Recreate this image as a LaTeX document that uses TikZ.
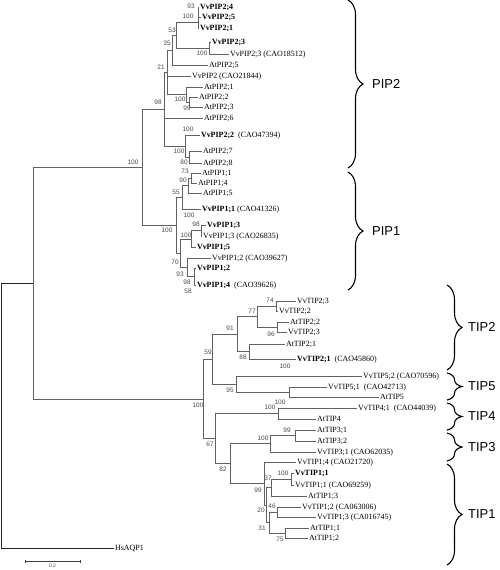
\documentclass[tikz,border=0pt]{standalone}
\usepackage{fontspec}
\setmainfont{Liberation Serif}
\newfontfamily\lsans{Liberation Sans}
\usetikzlibrary{decorations.pathreplacing}
\tikzset{
 br/.style={draw=black!62, line width=0.6bp},
 leaf/.style={anchor=west, inner xsep=0.8bp, inner ysep=0pt, text height=5.4bp, text depth=0pt, font=\fontsize{8}{9}\selectfont},
 bs/.style={inner sep=0pt, font=\lsans\fontsize{6.5}{7}\selectfont, text=black!72},
 clade/.style={anchor=west, inner sep=0pt, font=\lsans\fontsize{13}{15}\selectfont},
 brc/.style={decorate, decoration={brace, amplitude=15bp}, line width=1.1bp},
}
\begin{document}
\begin{tikzpicture}[x=1bp,y=-1bp]
\useasboundingbox (0,0) rectangle (500,570);
% ---------- PIP leaves
\node[leaf] (L1) at (199,7) {\textbf{VvPIP2;4}};
\node[leaf] (L2) at (201,17) {\textbf{VvPIP2;5}};
\node[leaf] (L3) at (199,28) {\textbf{VvPIP2;1}};
\node[leaf] (L4) at (211,42) {\textbf{VvPIP2;3}};
\node[leaf] (L5) at (229,54) {VvPIP2;3 (CAO18512)};
\node[leaf] (L6) at (208,65) {AtPIP2;5};
\node[leaf] (L7) at (191,76) {VvPIP2 (CAO21844)};
\node[leaf] (L8) at (203,87) {AtPIP2;1};
\node[leaf] (L9) at (198,97) {AtPIP2;2};
\node[leaf] (L10) at (203,107) {AtPIP2;3};
\node[leaf] (L11) at (203,118) {AtPIP2;6};
\node[leaf] (L12) at (200,135) {\textbf{VvPIP2;2}\ \ (CAO47394)};
\node[leaf] (L13) at (202,151) {AtPIP2;7};
\node[leaf] (L14) at (202,163) {AtPIP2;8};
\node[leaf] (L15) at (201,173) {AtPIP1;1};
\node[leaf] (L16) at (197,183) {AtPIP1;4};
\node[leaf] (L17) at (202,193) {AtPIP1;5};
\node[leaf] (L18) at (201,209) {\textbf{VvPIP1;1} (CAO41326)};
\node[leaf] (L19) at (206,225) {\textbf{VvPIP1;3}};
\node[leaf] (L20) at (202,236) {VvPIP1;3 (CAO26835)};
\node[leaf] (L21) at (196,247) {\textbf{VvPIP1;5}};
\node[leaf] (L22) at (211,258) {VvPIP1;2 (CAO39627)};
\node[leaf] (L23) at (196,268) {\textbf{VvPIP1;2}};
\node[leaf] (L24) at (196,285) {\textbf{VvPIP1;4}\ \ (CAO39626)};
% ---------- TIP leaves
\node[leaf] (T1) at (296,301) {VvTIP2;3};
\node[leaf] (T2) at (278,311) {VvTIP2;2};
\node[leaf] (T3) at (289,322) {AtTIP2;2};
\node[leaf] (T4) at (287,332) {VvTIP2;3};
\node[leaf] (T5) at (285,344) {AtTIP2;1};
\node[leaf] (T6) at (296,359) {\textbf{VvTIP2;1}\ \ (CAO45860)};
\node[leaf] (T7) at (362,376) {VvTIP5;2 (CAO70596)};
\node[leaf] (T8) at (327,387) {VvTIP5;1\ \ (CAO42713)};
\node[leaf] (T9) at (379,397) {AtTIP5};
\node[leaf] (T10) at (357,408) {VvTIP4;1\ \ (CAO44039)};
\node[leaf] (T11) at (316,419) {AtTIP4};
\node[leaf] (T12) at (316,430) {AtTIP3;1};
\node[leaf] (T13) at (316,441) {AtTIP3;2};
\node[leaf] (T14) at (316,452) {VvTIP3;1 (CAO62035)};
\node[leaf] (T15) at (296,462) {VvTIP1;4 (CAO21720)};
\node[leaf] (T16) at (294,473) {\textbf{VvTIP1;1}};
\node[leaf] (T17) at (294,485) {VvTIP1;1 (CAO69259)};
\node[leaf] (T18) at (307,496) {AtTIP1;3};
\node[leaf] (T19) at (301,507) {VvTIP1;2 (CA063006)};
\node[leaf] (T20) at (316,517) {VvTIP1;3 (CA016745)};
\node[leaf] (T21) at (309,528) {AtTIP1;1};
\node[leaf] (T22) at (308,538) {AtTIP1;2};
\node[leaf] (HS) at (114,548) {HsAQP1};
% ---------- PIP internal nodes
\coordinate (nA) at (198,22);
\coordinate (n100b) at (209,48);
\coordinate (n53) at (176,35);
\coordinate (n35) at (172,50);
\coordinate (n99) at (189,102);
\coordinate (n100c) at (186,94.5);
\coordinate (n21) at (167,72);
\coordinate (nY) at (189,157);
\coordinate (nX) at (185,146);
\coordinate (pip2) at (164,109);
\coordinate (n73) at (191,178);
\coordinate (n90) at (188,185.5);
\coordinate (n55) at (182,197);
\coordinate (n98) at (201,230.5);
\coordinate (n100d) at (191,239);
\coordinate (n98b) at (194,276.5);
\coordinate (n93) at (187,267);
\coordinate (n70) at (180,253);
\coordinate (pip1) at (176,225);
\coordinate (pip) at (142,167.5);
% ---------- TIP internal nodes
\coordinate (n74) at (276,306);
\coordinate (n96) at (277,327);
\coordinate (n77) at (257,316.5);
\coordinate (n88) at (249,351.5);
\coordinate (n91) at (237,334);
\coordinate (t5) at (289,392);
\coordinate (n95) at (236,384);
\coordinate (n59) at (212,359);
\coordinate (t4) at (278,413.5);
\coordinate (n99t3) at (295,435.5);
\coordinate (t3) at (270,443.75);
\coordinate (n100t1) at (291,479);
\coordinate (n37) at (271,487.5);
\coordinate (n46) at (277,512);
\coordinate (n75) at (285,533);
\coordinate (n31) at (269,522.5);
\coordinate (n20) at (266,505);
\coordinate (t1) at (264,483.5);
\coordinate (n82) at (230,463.6);
\coordinate (n67) at (215,438.6);
\coordinate (tip) at (203,398.8);
\coordinate (ing) at (33,283);
\coordinate (root) at (1,415.5);
% ---------- PIP branches
\draw[br] (nA) |- (L1.west) (nA) |- (L2.west) (nA) |- (L3.west);
\draw[br] (n100b) |- (L4.west) (n100b) |- (L5.west);
\draw[br] (n53) |- (nA) (n53) |- (n100b);
\draw[br] (n35) |- (n53) (n35) |- (L6.west);
\draw[br] (n99) |- (L9.west) (n99) |- (L10.west);
\draw[br] (n100c) |- (L8.west) (n100c) |- (n99);
\draw[br] (n21) |- (n35) (n21) |- (L7.west) (n21) |- (n100c);
\draw[br] (nY) |- (L13.west) (nY) |- (L14.west);
\draw[br] (nX) |- (L12.west) (nX) |- (nY);
\draw[br] (pip2) |- (n21) (pip2) |- (L11.west) (pip2) |- (nX);
\draw[br] (n73) |- (L15.west) (n73) |- (L16.west);
\draw[br] (n90) |- (n73) (n90) |- (L17.west);
\draw[br] (n55) |- (n90) (n55) |- (L18.west);
\draw[br] (n98) |- (L19.west) (n98) |- (L20.west);
\draw[br] (n100d) |- (n98) (n100d) |- (L21.west);
\draw[br] (n98b) |- (L23.west) (n98b) |- (L24.west);
\draw[br] (n93) |- (L22.west) (n93) |- (n98b);
\draw[br] (n70) |- (n100d) (n70) |- (n93);
\draw[br] (pip1) |- (n55) (pip1) |- (n70);
\draw[br] (pip) |- (pip2) (pip) |- (pip1);
% ---------- TIP branches
\draw[br] (n74) |- (T1.west) (n74) |- (T2.west);
\draw[br] (n96) |- (T3.west) (n96) |- (T4.west);
\draw[br] (n77) |- (n74) (n77) |- (n96);
\draw[br] (n88) |- (T5.west) (n88) |- (T6.west);
\draw[br] (n91) |- (n77) (n91) |- (n88);
\draw[br] (t5) |- (T8.west) (t5) |- (T9.west);
\draw[br] (n95) |- (T7.west) (n95) |- (t5);
\draw[br] (n59) |- (n91) (n59) |- (n95);
\draw[br] (t4) |- (T10.west) (t4) |- (T11.west);
\draw[br] (n99t3) |- (T12.west) (n99t3) |- (T13.west);
\draw[br] (t3) |- (n99t3) (t3) |- (T14.west);
\draw[br] (n100t1) |- (T16.west) (n100t1) |- (T17.west);
\draw[br] (n37) |- (n100t1) (n37) |- (T18.west);
\draw[br] (n46) |- (T19.west) (n46) |- (T20.west);
\draw[br] (n75) |- (T21.west) (n75) |- (T22.west);
\draw[br] (n31) |- (n46) (n31) |- (n75);
\draw[br] (n20) |- (n37) (n20) |- (n31);
\draw[br] (t1) |- (T15.west) (t1) |- (n20);
\draw[br] (n82) |- (t3) (n82) |- (t1);
\draw[br] (n67) |- (t4) (n67) |- (n82);
\draw[br] (tip) |- (n59) (tip) |- (n67);
\draw[br] (ing) |- (pip) (ing) |- (tip);
\draw[br, draw=black!85] (root) |- (ing) (root) |- (HS.west);
% ---------- bootstrap values
\node[bs] (b1) at (191,6) {93};
\node[bs] (b2) at (188,16) {100};
\node[bs] (b3) at (172,30) {53};
\node[bs] (b4) at (167,43) {35};
\node[bs] (b5) at (202,53) {100};
\node[bs] (b6) at (161,67) {21};
\node[bs] (b7) at (158,102) {98};
\node[bs] (b8) at (180,99) {100};
\node[bs] (b9) at (187,108) {99};
\node[bs] (b10) at (188,129) {100};
\node[bs] (b11) at (179,151) {100};
\node[bs] (b12) at (184,162) {80};
\node[bs] (b13) at (133,162) {100};
\node[bs] (b14) at (185,171) {73};
\node[bs] (b15) at (183,180) {90};
\node[bs] (b16) at (176,192) {55};
\node[bs] (b17) at (189,215) {100};
\node[bs] (b18) at (196,224) {98};
\node[bs] (b19) at (167,230) {100};
\node[bs] (b20) at (186,235) {100};
\node[bs] (b21) at (175,262) {70};
\node[bs] (b22) at (180,274) {93};
\node[bs] (b23) at (187,282) {98};
\node[bs] (b24) at (188,291) {58};
\node[bs] (c1) at (270,300) {74};
\node[bs] (c2) at (252,311) {77};
\node[bs] (c3) at (271,334) {96};
\node[bs] (c4) at (230,328) {91};
\node[bs] (c5) at (208,352) {59};
\node[bs] (c6) at (243,357) {88};
\node[bs] (c7) at (285,366) {100};
\node[bs] (c8) at (230,390) {95};
\node[bs] (c9) at (280,402) {100};
\node[bs] (c10) at (198,405) {100};
\node[bs] (c11) at (270,407) {100};
\node[bs] (c12) at (287,430) {99};
\node[bs] (c13) at (263,438) {100};
\node[bs] (c14) at (210,444) {67};
\node[bs] (c15) at (223,469) {82};
\node[bs] (c16) at (283,473) {100};
\node[bs] (c17) at (268,478) {37};
\node[bs] (c18) at (258,490) {99};
\node[bs] (c19) at (272,506) {46};
\node[bs] (c20) at (261,510) {20};
\node[bs] (c21) at (262,528) {31};
\node[bs] (c22) at (280,539) {75};
% ---------- scale bar
\coordinate (sb1) at (25,561.5);
\coordinate (sb2) at (80,561.5);
\draw[br, draw=black!75] (sb1) -- (sb2);
\draw[br, draw=black!75] ([yshift=-1.5bp]sb1) -- ([yshift=1.5bp]sb1) ([yshift=-1.5bp]sb2) -- ([yshift=1.5bp]sb2);
\node[bs, anchor=north, font=\lsans\fontsize{5}{6}\selectfont] (sbl) at (52.5,564) {0.2};
% ---------- clade braces
\draw[brc] (348,0) -- (348,168);
\node[clade] (kPIP2) at (372,84) {PIP2};
\draw[brc] (348,172) -- (348,290);
\node[clade] (kPIP1) at (372,231) {PIP1};
\draw[brc] (447,285) -- (447,370);
\node[clade] (kTIP2) at (468,327) {TIP2};
\draw[brc] (447,373) -- (447,400);
\node[clade] (kTIP5) at (468,386) {TIP5};
\draw[brc] (447,403) -- (447,430);
\node[clade] (kTIP4) at (468,416) {TIP4};
\draw[brc] (447,433) -- (447,461);
\node[clade] (kTIP3) at (468,447) {TIP3};
\draw[brc] (447,464) -- (447,565);
\node[clade] (kTIP1) at (468,514) {TIP1};
\end{tikzpicture}
\end{document}
